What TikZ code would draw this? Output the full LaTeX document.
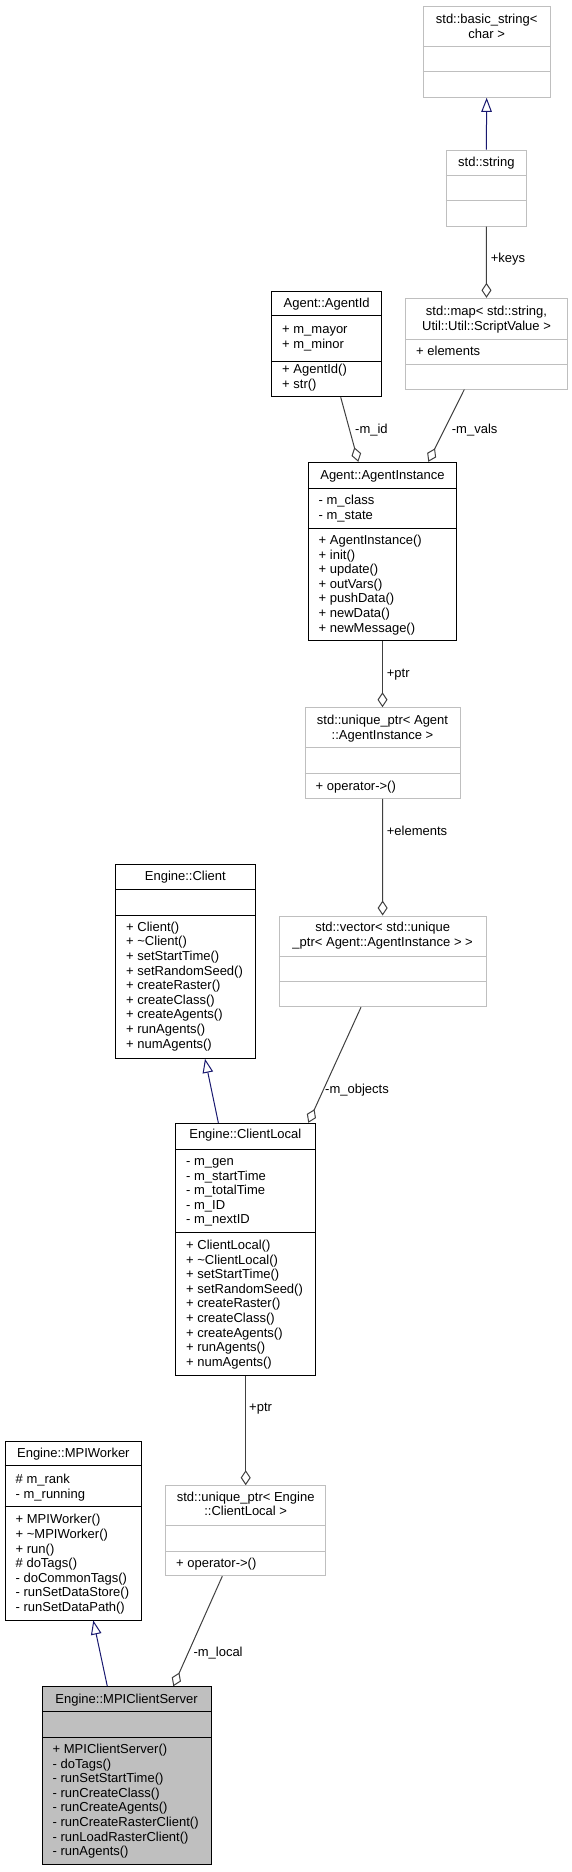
\documentclass[tikz,border=0pt]{standalone}
\usepackage{fontspec}
\setmainfont{Liberation Sans}
\usetikzlibrary{arrows.meta}
\definecolor{lightgr}{HTML}{BFBFBF}
\definecolor{edgegr}{HTML}{404040}
\definecolor{navyc}{HTML}{191970}
\definecolor{srvfill}{HTML}{BFBFBF}
\newcommand{\clsbox}[9]{% name, boxstyle, cx, cy, W, H, div1, div2, linecolor
  \node[#2, minimum width=#5pt, minimum height=#6pt] (#1) at (#3,#4) {};
  \draw[draw=#9, line width=1pt] (#1.west |- 0,#7) -- (#1.east |- 0,#7);
  \draw[draw=#9, line width=1pt] (#1.west |- 0,#8) -- (#1.east |- 0,#8);
}
\newcommand{\ctitle}[4]{\node[ttl] (#1) at (#2,#3-5.9) {\strut #4};}
\newcommand{\cmem}[4]{\node[mem] (#1) at (#2,#3-5.9) {\strut #4};}
\newcommand{\elabel}[4]{\node[lbl] (#1) at (#2,#3+4.3) {#4};}
\begin{document}
\begin{tikzpicture}[x=1pt,y=-1pt,
  txt/.style={font=\fontsize{13}{14.6}\selectfont, inner sep=0pt, text=black},
  ttl/.style={txt, anchor=north, align=center},
  mem/.style={txt, anchor=north west, align=left},
  lbl/.style={txt, anchor=base west},
  blackbox/.style={draw=black, line width=1pt, fill=white, inner sep=0pt, rectangle},
  graybox/.style={draw=lightgr, line width=1pt, fill=white, inner sep=0pt, rectangle},
  serverbox/.style={draw=black, line width=1pt, fill=srvfill, inner sep=0pt, rectangle},
  agg/.style={draw=edgegr, line width=1pt, -{Diamond[open, length=15pt, width=10pt, line width=1pt]}},
  inh/.style={draw=navyc, line width=1pt, -{Triangle[open, length=14pt, width=10.5pt, line width=1pt]}}
]
\fill[white] (0,0) rectangle (572,1872);
\useasboundingbox (0,0) rectangle (572,1872);

% boxes
\clsbox{basic}{graybox}{486.65}{52}{126.7}{90.6}{46.7}{71.7}{lightgr}
\clsbox{str}{graybox}{486.35}{188}{80.7}{76}{175}{200.7}{lightgr}
\clsbox{map}{graybox}{486.5}{343.65}{161.6}{90.7}{339.3}{364.3}{lightgr}
\clsbox{agentid}{blackbox}{326.7}{343.85}{110}{105.7}{315}{361.7}{black}
\clsbox{inst}{blackbox}{382.5}{551.4}{148.4}{178.2}{488}{528}{black}
\clsbox{uptra}{graybox}{382.5}{753}{155}{90.6}{747.7}{773.3}{lightgr}
\clsbox{vec}{graybox}{382.65}{961.35}{206.7}{90.7}{956}{981.3}{lightgr}
\clsbox{client}{blackbox}{185.35}{961.3}{139.3}{194}{889.3}{915}{black}
\clsbox{clocal}{blackbox}{245.35}{1249.15}{139.3}{251.7}{1149}{1232.3}{black}
\clsbox{worker}{blackbox}{73.35}{1530.5}{136.7}{179}{1465}{1506}{black}
\clsbox{uptrb}{graybox}{245.7}{1530.7}{160}{90}{1525}{1551}{lightgr}
\clsbox{server}{serverbox}{126.65}{1775.5}{168.7}{177.6}{1711.7}{1737.7}{black}

% texts
\ctitle{basic-t}{486.65}{19}{std::basic\_string<\\char >}
\ctitle{str-t}{486.35}{162.3}{std::string}
\ctitle{map-t}{486.5}{311}{std::map< std::string,\\ Util::Util::ScriptValue >}
\cmem{map-a}{416}{350.7}{+ elements}
\ctitle{agentid-t}{326.7}{303.3}{Agent::AgentId}
\cmem{agentid-a}{282}{329}{+ m\_mayor\\+ m\_minor}
\cmem{agentid-m}{282}{369.3}{+ AgentId()\\+ str()}
\ctitle{inst-t}{382.5}{475}{Agent::AgentInstance}
\cmem{inst-a}{318.5}{500}{- m\_class\\- m\_state}
\cmem{inst-m}{318.5}{540}{+ AgentInstance()\\+ init()\\+ update()\\+ outVars()\\+ pushData()\\+ newData()\\+ newMessage()}
\ctitle{uptra-t}{382.5}{720}{std::unique\_ptr< Agent\\::AgentInstance >}
\cmem{uptra-m}{315.5}{785.7}{+ operator->()}
\ctitle{vec-t}{382.65}{927.3}{std::vector< std::unique\\\_ptr< Agent::AgentInstance > >}
\ctitle{client-t}{185.35}{876}{Engine::Client}
\cmem{client-m}{126}{926.7}{+ Client()\\+ \textasciitilde Client()\\+ setStartTime()\\+ setRandomSeed()\\+ createRaster()\\+ createClass()\\+ createAgents()\\+ runAgents()\\+ numAgents()}
\ctitle{clocal-t}{245.35}{1134.3}{Engine::ClientLocal}
\cmem{clocal-a}{186}{1161}{- m\_gen\\- m\_startTime\\- m\_totalTime\\- m\_ID\\- m\_nextID}
\cmem{clocal-m}{186}{1245}{+ ClientLocal()\\+ \textasciitilde ClientLocal()\\+ setStartTime()\\+ setRandomSeed()\\+ createRaster()\\+ createClass()\\+ createAgents()\\+ runAgents()\\+ numAgents()}
\ctitle{worker-t}{73.35}{1453.3}{Engine::MPIWorker}
\cmem{worker-a}{15.5}{1479}{\# m\_rank\\- m\_running}
\cmem{worker-m}{15.5}{1519.3}{+ MPIWorker()\\+ \textasciitilde MPIWorker()\\+ run()\\\# doTags()\\- doCommonTags()\\- runSetDataStore()\\- runSetDataPath()}
\ctitle{uptrb-t}{245.7}{1496.7}{std::unique\_ptr< Engine\\::ClientLocal >}
\cmem{uptrb-m}{176}{1563.3}{+ operator->()}
\ctitle{server-t}{126.65}{1699}{Engine::MPIClientServer}
\cmem{server-m}{52.5}{1749}{+ MPIClientServer()\\- doTags()\\- runSetStartTime()\\- runCreateClass()\\- runCreateAgents()\\- runCreateRasterClient()\\- runLoadRasterClient()\\- runAgents()}

% connectors
\draw[inh] (str.north) -- (basic.south);
\draw[agg] (str.south) -- (map.north);
\draw[agg] ([xshift=14pt]agentid.south) -- ([xshift=-24.2pt]inst.north);
\draw[agg] ([xshift=-22.2pt]map.south) -- ([xshift=45.8pt]inst.north);
\draw[agg] (inst.south) -- (uptra.north);
\draw[agg] (uptra.south) -- (vec.north);
\draw[agg] ([xshift=-21.65pt]vec.south) -- ([xshift=62.95pt]clocal.north);
\draw[inh] ([xshift=-27pt]clocal.north) -- ([xshift=19.65pt]client.south);
\draw[agg] (clocal.south -| uptrb.north) -- (uptrb.north);
\draw[agg] ([xshift=-23.4pt]uptrb.south) -- ([xshift=46.65pt]server.north);
\draw[inh] ([xshift=-19.35pt]server.north) -- ([xshift=19.95pt]worker.south);

% labels
\elabel{l-keys}{490.7}{257.7}{+keys}
\elabel{l-mid}{355}{429}{-m\_id}
\elabel{l-mvals}{451.7}{429}{-m\_vals}
\elabel{l-ptra}{386.7}{673.3}{+ptr}
\elabel{l-elem}{386.7}{830.7}{+elements}
\elabel{l-mobj}{325}{1089.3}{-m\_objects}
\elabel{l-ptrb}{249}{1406.7}{+ptr}
\elabel{l-mlocal}{193.3}{1651.7}{-m\_local}
\end{tikzpicture}
\end{document}
